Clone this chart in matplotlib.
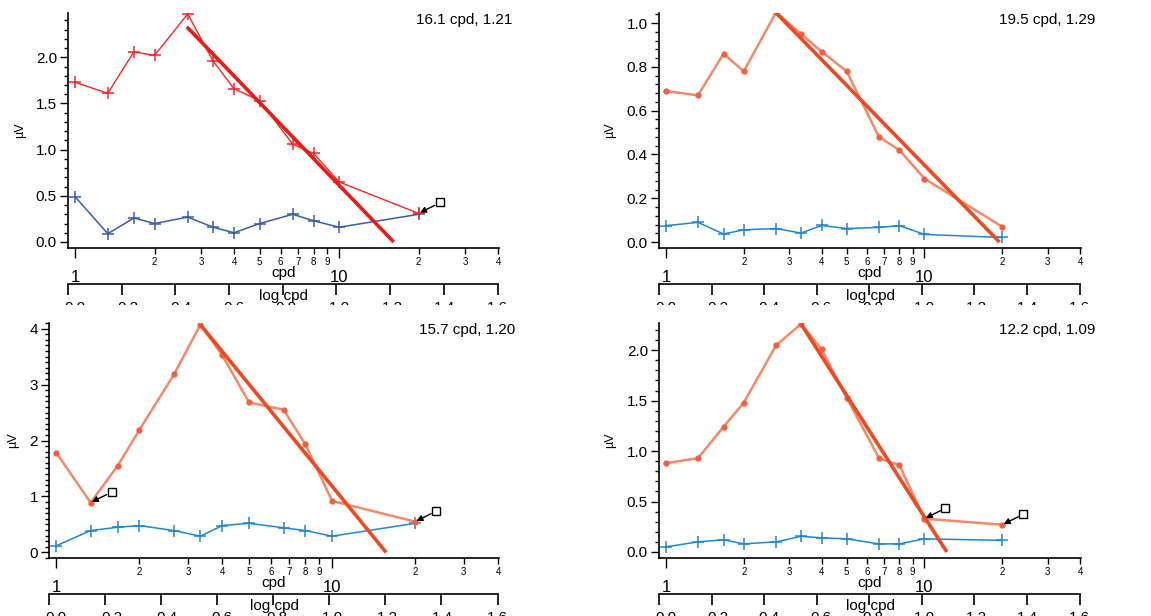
import numpy as np
import matplotlib
matplotlib.use('Agg')
import matplotlib.pyplot as plt
from matplotlib.ticker import FixedLocator, FixedFormatter, MultipleLocator, FormatStrFormatter
from matplotlib.transforms import Bbox, TransformedBbox, blended_transform_factory, offset_copy

plt.rcParams['font.family'] = ['Liberation Sans', 'DejaVu Sans']

# spatial frequencies (cpd), shared by all four recordings
cpd = [1.0, 1.33, 1.67, 2.0, 2.67, 3.33, 4.0, 5.0, 6.67, 8.0, 10.0, 20.0]

# response amplitudes (uV): signal (red) and noise (blue)
redA = [1.73, 1.61, 2.06, 2.02, 2.47, 1.96, 1.66, 1.53, 1.06, 0.96, 0.65, 0.31]
blueA = [0.49, 0.09, 0.26, 0.20, 0.27, 0.16, 0.10, 0.20, 0.30, 0.23, 0.16, 0.30]
redB = [0.69, 0.67, 0.86, 0.78, 1.05, 0.95, 0.87, 0.78, 0.48, 0.42, 0.29, 0.07]
blueB = [0.075, 0.09, 0.037, 0.056, 0.062, 0.041, 0.076, 0.062, 0.067, 0.075, 0.035, 0.021]
redC = [1.78, 0.89, 1.55, 2.19, 3.18, 4.07, 3.52, 2.68, 2.55, 1.93, 0.92, 0.55]
blueC = [0.12, 0.39, 0.45, 0.48, 0.39, 0.29, 0.48, 0.52, 0.44, 0.39, 0.29, 0.52]
redD = [0.88, 0.93, 1.24, 1.48, 2.05, 2.26, 2.01, 1.53, 0.93, 0.86, 0.33, 0.27]
blueD = [0.05, 0.10, 0.12, 0.08, 0.10, 0.155, 0.14, 0.13, 0.08, 0.08, 0.13, 0.115]

# regression lines (start point -> acuity cut-off at 0 uV)
fitA_x = [2.65, 16.1]
fitA_y = [2.33, 0.0]
fitB_x = [2.67, 19.5]
fitB_y = [1.046, 0.0]
fitC_x = [3.33, 15.7]
fitC_y = [4.07, 0.0]
fitD_x = [3.33, 12.2]
fitD_y = [2.26, 0.0]

titles = ['16.1 cpd, 1.21', '19.5 cpd, 1.29', '15.7 cpd, 1.20', '12.2 cpd, 1.09']
# points flagged with a little box marker (index into cpd)
flagged = [[11], [], [1, 11], [10, 11]]

log_ticks = [0.0, 0.2, 0.4, 0.6, 0.8, 1.0, 1.2, 1.4, 1.6]
minor_cpd = [2, 3, 4, 5, 6, 7, 8, 9, 20, 30, 40]
minor_lbl = ['2', '3', '4', '5', '6', '7', '8', '9', '2', '3', '4']

W, H = 1151, 616
fig = plt.figure(figsize=(W / 100, H / 100), dpi=100)

reds = [redA, redB, redC, redD]
blues = [blueA, blueB, blueC, blueD]
fits = [(fitA_x, fitA_y), (fitB_x, fitB_y), (fitC_x, fitC_y), (fitD_x, fitD_y)]
# pixel boxes: left, right, top, bottom
boxes = [(68, 499, 13, 248), (659, 1081, 13, 248), (49, 499, 323, 558), (659, 1081, 323, 558)]
ylims = [(-0.065, 2.48), (-0.027, 1.046), (-0.10, 4.10), (-0.06, 2.27)]
ysteps = [(0.5, 0.1, '%.1f'), (0.2, 0.04, '%.1f'), (1, 0.1, '%d'), (0.5, 0.1, '%.1f')]
ylab_off = [48, 49, 36, 49]
title_pos = [(512, 20), (1095, 20), (515, 330), (1095, 330)]
cut_y = [305, 305, 616, 616]

for i in range(4):
    l, r, t, b = boxes[i]
    ax = fig.add_axes([l / W, 1 - b / H, (r - l) / W, (b - t) / H])
    if i == 0:
        red_c, fit_c, blue_c = '#ff2424', '#e81a1a', '#3a5cb0'
    else:
        red_c, fit_c, blue_c = '#f58868', '#ee4a22', '#1f86d6'

    ax.plot(cpd, blues[i], color=blue_c, lw=1.1, marker='+', ms=8, mew=1.1)
    if i == 0:
        ax.plot(cpd, reds[i], color=red_c, lw=1.0, marker='+', ms=9, mew=1.1)
    else:
        ax.plot(cpd, reds[i], color=red_c, lw=1.8, marker='o', ms=3.5, mfc='#f06040', mec='#f06040')
    ax.plot(fits[i][0], fits[i][1], color=fit_c, lw=2.6, solid_capstyle='butt')

    for k in flagged[i]:
        px, py = cpd[k], reds[i][k]
        tr = offset_copy(ax.transData, fig=fig, x=21, y=11, units='dots')
        ax.plot(px, py, 's', ms=6, mfc='white', mec='black', mew=1.0, transform=tr, zorder=5, clip_on=False)
        ax.annotate('', xy=(px, py), xytext=(16, 8), textcoords='offset pixels',
                    arrowprops=dict(arrowstyle='-|>', color='black', lw=1.0, shrinkA=0, shrinkB=1,
                                    mutation_scale=9), zorder=5)

    ax.set_xscale('log')
    ax.set_xlim(0.94, 40.3)
    ax.set_ylim(*ylims[i])
    ax.xaxis.set_major_locator(FixedLocator([1, 10]))
    ax.xaxis.set_major_formatter(FixedFormatter(['1', '10']))
    ax.xaxis.set_minor_locator(FixedLocator(minor_cpd))
    ax.xaxis.set_minor_formatter(FixedFormatter(minor_lbl))
    ax.tick_params(axis='x', which='major', direction='out', length=7, width=1, pad=8.5, labelsize=12)
    ax.tick_params(axis='x', which='minor', direction='out', length=4, width=1, pad=2.5, labelsize=7)

    major, minor, fmt = ysteps[i]
    ax.yaxis.set_major_locator(MultipleLocator(major))
    ax.yaxis.set_minor_locator(MultipleLocator(minor))
    ax.yaxis.set_major_formatter(FormatStrFormatter(fmt))
    ax.tick_params(axis='y', which='major', direction='out', length=6, width=1, pad=2, labelsize=11)
    ax.tick_params(axis='y', which='minor', direction='out', length=3, width=1)

    for s in ['top', 'right']:
        ax.spines[s].set_visible(False)
    for s in ['left', 'bottom']:
        ax.spines[s].set_linewidth(1.2)

    ax.text(-ylab_off[i] / (r - l), 0.5, 'µV', transform=ax.transAxes, rotation=90,
            ha='center', va='center', fontsize=9)
    ax.text(0.5, -0.108, 'cpd', transform=ax.transAxes, ha='center', va='center', fontsize=11)
    ax.text(0.5, -0.204, 'log cpd', transform=ax.transAxes, ha='center', va='center', fontsize=11)

    # second axis in log units below the cpd axis
    secax = ax.secondary_xaxis(-0.153, functions=(np.log10, lambda v: 10 ** v))
    secax.set_xticks(log_ticks)
    secax.set_xticklabels([])
    secax.tick_params(direction='out', length=8, width=1.2)
    secax.spines['bottom'].set_linewidth(1.2)
    secax.spines['bottom'].set_bounds(0.0, 1.6)

    # its labels are cut off at the bottom of each panel
    clip = TransformedBbox(Bbox([[0, 1 - cut_y[i] / H], [1, 1]]), fig.transFigure)
    btr = blended_transform_factory(ax.transData, ax.transAxes)
    for v in log_ticks:
        lbl = ax.text(10 ** v, -0.225, '%.1f' % v, transform=btr, ha='center', va='top', fontsize=11)
        lbl.set_clip_on(True)
        lbl.set_clip_box(clip)

    tx, ty = title_pos[i]
    fig.text(tx / W, 1 - ty / H, titles[i], ha='right', va='center', fontsize=11)

plt.savefig('out.png', dpi=100)
